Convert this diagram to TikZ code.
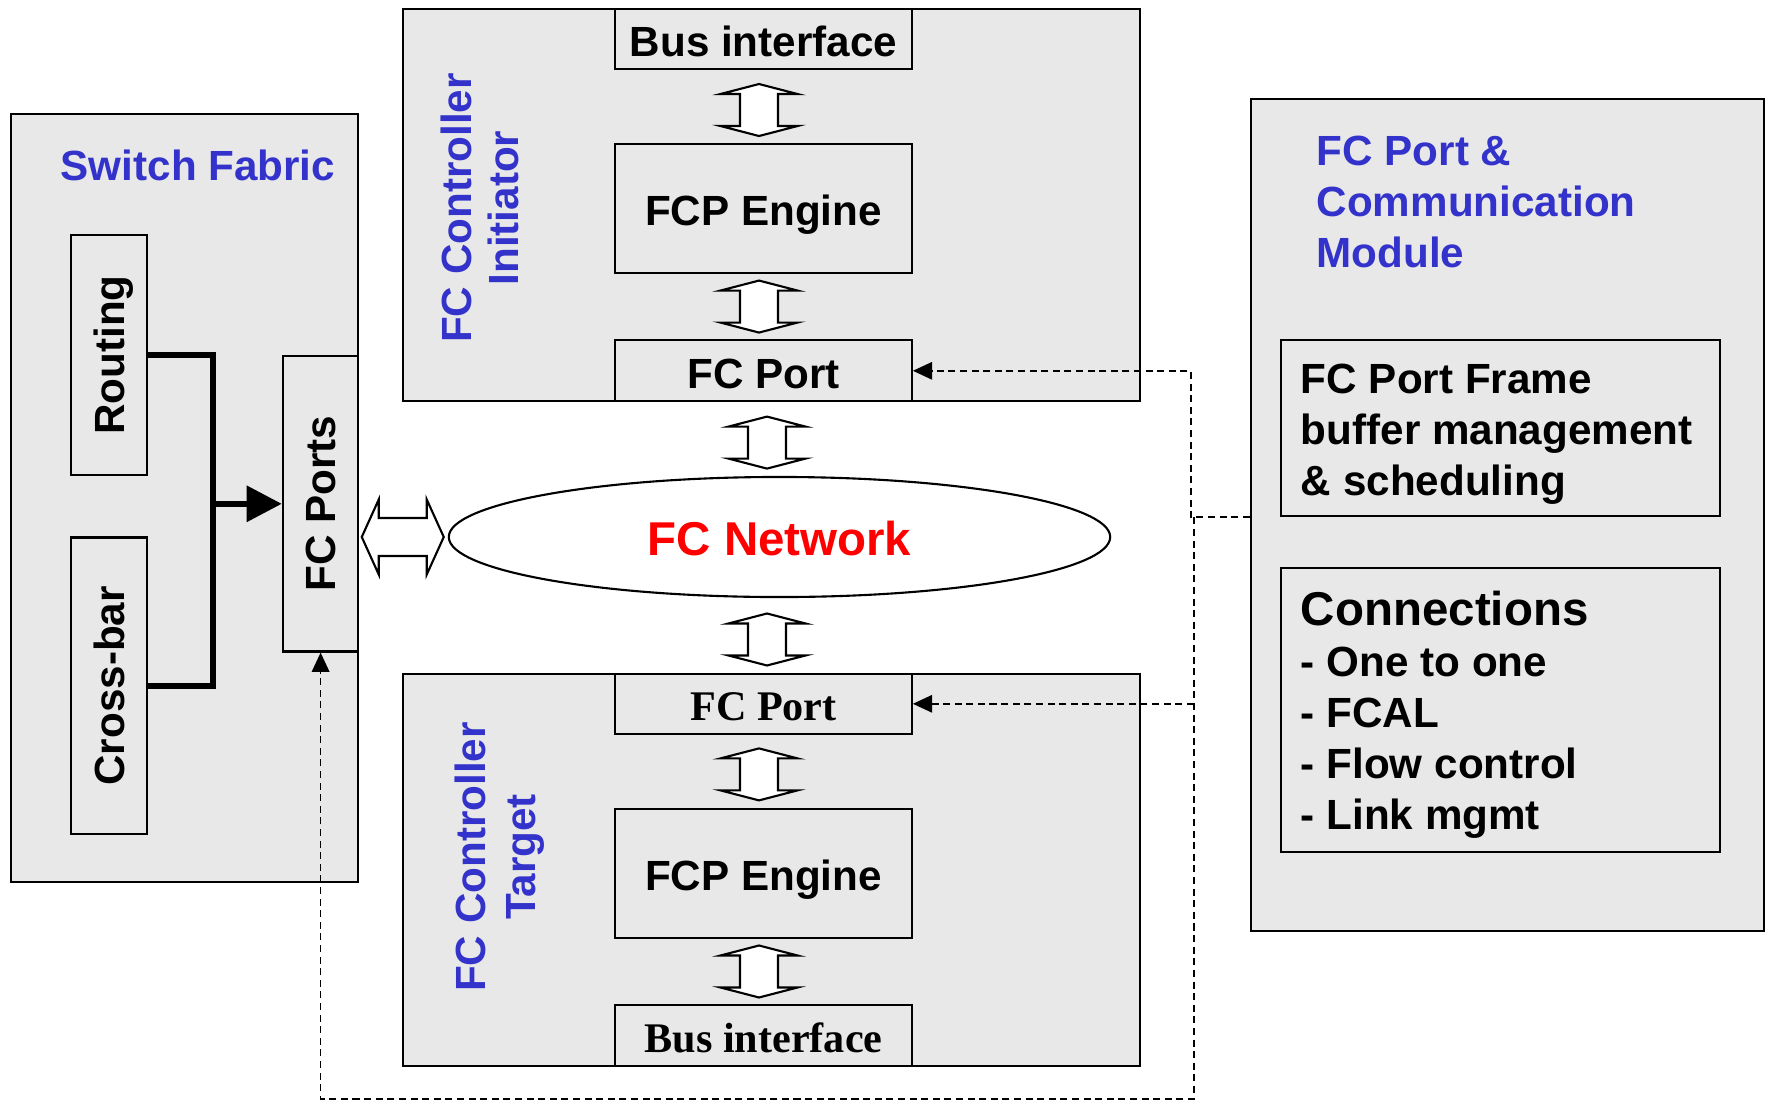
\documentclass[tikz,border=0pt]{standalone}
\usepackage{fontspec}
\setmainfont{Liberation Sans}
\newfontfamily\timesbf{Liberation Serif}
\usepackage{tikz}
\usetikzlibrary{calc, arrows.meta, shapes.geometric, positioning}

\definecolor{panelgray}{RGB}{232,232,232}
\definecolor{titleblue}{RGB}{51,51,204}
\definecolor{netred}{RGB}{255,0,0}

\tikzset{
  panel/.style={draw, fill=panelgray, line width=0.6pt, inner sep=0pt},
  block/.style={draw, fill=panelgray, line width=0.6pt, inner sep=0pt,
    text height=9.9pt, text depth=0pt},
  serifblock/.style={block, text height=9.4pt, font=\fontsize{12}{14.5}\timesbf\bfseries},
  sidetext/.style={rotate=90, inner sep=0pt, text depth=0pt},
  boxtext/.style={anchor=north west, align=left, inner sep=0pt},
  title/.style={text=titleblue, inner sep=0pt},
  thickline/.style={line width=1.7pt},
  dashlink/.style={line width=0.5pt, dash pattern=on 2pt off 1.3pt,
    -{Triangle[length=5.5pt, width=5pt]}},
  vdarrow/.pic={
    \draw[fill=white, line width=0.6pt] (0,-26) -- (38.5,-16) -- (19,-16) -- (19,16)
      -- (38.5,16) -- (0,26) -- (-38.5,16) -- (-19,16) -- (-19,-16) -- (-38.5,-16) -- cycle;
  },
  hdarrow/.pic={
    \draw[fill=white, line width=0.6pt] (-41,0) -- (-24,-37.5) -- (-24,-19) -- (24,-19)
      -- (24,-37.5) -- (41,0) -- (24,37.5) -- (24,19) -- (-24,19) -- (-24,37.5) -- cycle;
  }
}

\begin{document}
\begin{tikzpicture}[x=0.01cm, y=-0.01cm, font=\fontsize{12}{14.5}\selectfont\bfseries]
    \useasboundingbox (0,0) rectangle (1767,1100);

    % 1. Switch Fabric
    \node[panel, minimum width=3.47cm, minimum height=7.675cm] (sfab) at (184.8,497.6) {};
    \node[title] (sfabtitle) at (198,165) {Switch Fabric};
    \node[block, minimum width=0.755cm, minimum height=2.39cm] (routing) at (108.8,355) {};
    \node[sidetext] (routingtxt) at (routing.center) {Routing};
    \node[block, minimum width=0.755cm, minimum height=2.964cm] (crossbar) at (108.8,685.8) {};
    \node[sidetext] (crossbartxt) at (crossbar.center) {Cross-bar};
    \node[block, minimum width=0.755cm, minimum height=2.953cm] (ports) at (320.6,503.8) {};
    \node[sidetext] (portstxt) at (ports.center) {FC Ports};

    \coordinate (join) at ($(ports.west)+(-69,0)$);
    \draw[thickline] (routing.east) -| (join) |- (crossbar.east);
    \draw[thickline, -{Triangle[length=10pt, width=10pt]}] (join) -- (ports.west);

    % 2. FC Controller Initiator
    \node[panel, minimum width=7.36cm, minimum height=3.922cm] (ctrlI) at (771.5,205.1) {};
    \node[title, rotate=90, align=center, font=\fontsize{12}{13.4}\selectfont\bfseries]
      (ctrlItxt) at (480,208) {FC Controller\\Initiator};
    \node[block, minimum width=2.965cm, minimum height=0.597cm] (busI) at (763.5,38.9) {Bus interface};
    \node[block, minimum width=2.965cm, minimum height=1.284cm] (engI) at (763.5,208.5) {FCP Engine};
    \node[block, minimum width=2.965cm, minimum height=0.608cm] (portI) at (763.5,370.8) {FC Port};
    \pic at ($(busI.south)!0.5!(engI.north)+(-4.5,3.5)$) {vdarrow};
    \pic at ($(engI.south)!0.5!(portI.north)+(-4.5,0)$) {vdarrow};

    % 3. FC Network
    \node[draw, ellipse, fill=white, line width=0.6pt, inner sep=0pt,
      minimum width=6.61cm, minimum height=1.2cm, text=netred, text height=10.6pt, text depth=0pt,
      font=\fontsize{13.5}{16}\selectfont\bfseries] (net) at (779.5,537) {FC Network};
    \pic at ($(portI.south)!0.5!(net.north)+(-4.5,3.5)$) {vdarrow};
    \pic at ($(net.west)+(-45,0)$) {hdarrow};

    % 4. FC Controller Target
    \node[panel, minimum width=7.36cm, minimum height=3.921cm] (ctrlT) at (771.5,870) {};
    \node[title, rotate=90, align=center, font=\fontsize{12}{14.2}\selectfont\bfseries]
      (ctrlTtxt) at (500,857) {FC Controller\\Target};
    \node[serifblock, minimum width=2.965cm, minimum height=0.597cm] (portT) at (763.5,703.8) {FC Port};
    \node[block, minimum width=2.965cm, minimum height=1.285cm] (engT) at (763.5,873.4) {FCP Engine};
    \node[serifblock, minimum width=2.965cm, minimum height=0.608cm] (busT) at (763.5,1035.7) {Bus interface};
    \pic at ($(net.south)!0.5!(portT.north)+(-4.5,4)$) {vdarrow};
    \pic at ($(portT.south)!0.5!(engT.north)+(-4.5,3)$) {vdarrow};
    \pic at ($(engT.south)!0.5!(busT.north)+(-4.5,0)$) {vdarrow};

    % 5. FC Port & Communication Module
    \node[panel, minimum width=5.128cm, minimum height=8.317cm] (mod) at (1507.4,515) {};
    \node[title, anchor=west, align=left] (modtitle) at (1316,202) {FC Port \&\\Communication\\Module};
    \node[block, minimum width=4.384cm, minimum height=1.758cm] (frame) at (1500.6,428.3) {};
    \node[boxtext] (frametxt) at ($(frame.north west)+(20,24)$)
      {FC Port Frame\\buffer management\\\& scheduling};
    \node[block, minimum width=4.384cm, minimum height=2.84cm] (conn) at (1500.6,710) {};
    \node[boxtext] (conntxt) at ($(conn.north west)+(20,24)$)
      {{\fontsize{13.5}{16}\selectfont Connections}\\
        - One to one\\- FCAL\\- Flow control\\- Link mgmt};

    % 6. Dashed links
    \coordinate (tapA) at ($(mod.west |- frame.south)+(-59,0)$);
    \coordinate (tapB) at ($(tapA)+(3,0)$);
    \coordinate (bend) at ($(tapB)+(0,581.5)$);
    \draw[dashlink] (mod.west |- frame.south) -- (tapA) |- (portI.east);
    \draw[dashlink] (tapB) -- (bend) -| (ports.south);
    \draw[dashlink] (tapB |- portT.east) -- (portT.east);

\end{tikzpicture}
\end{document}
